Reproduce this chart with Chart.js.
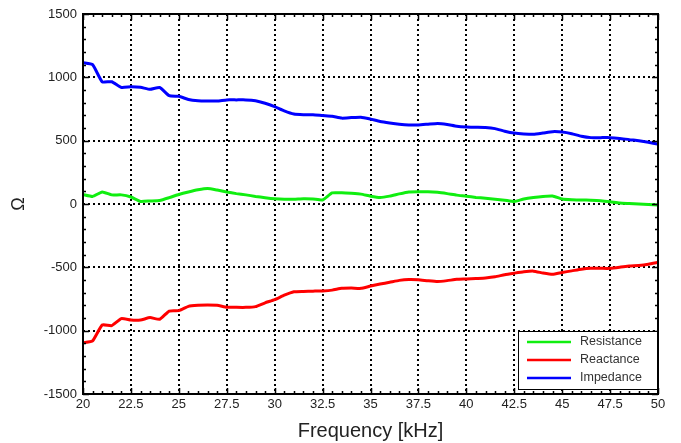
<!DOCTYPE html>
<html>
<head>
<meta charset="utf-8">
<script src="https://cdn.jsdelivr.net/npm/chart.js@4"></script>
<style>
  html, body { margin: 0; padding: 0; background: #fff; }
  #wrap { width: 681px; height: 443px; }
</style>
</head>
<body>
<div id="wrap"><canvas id="grafico" width="681" height="443"></canvas></div>
<script>
// frequencia em kHz
const frequencias = [
  20, 20.5, 21, 21.5, 22, 22.5, 23, 23.5, 24, 24.5,
  25, 25.5, 26, 26.5, 27, 27.5, 28, 28.5, 29, 29.5,
  30, 30.5, 31, 31.5, 32, 32.5, 33, 33.5, 34, 34.5,
  35, 35.5, 36, 36.5, 37, 37.5, 38, 38.5, 39, 39.5,
  40, 40.5, 41, 41.5, 42, 42.5, 43, 43.5, 44, 44.5,
  45, 45.5, 46, 46.5, 47, 47.5, 48, 48.5, 49, 49.5, 50
];

const resistencia = [
  75, 60, 95, 72, 72, 55, 20, 24, 28, 50,
  75, 95, 112, 122, 110, 95, 82, 72, 60, 50,
  42, 38, 38, 42, 40, 32, 88, 88, 84, 78,
  62, 52, 62, 80, 95, 97, 97, 92, 82, 70,
  62, 52, 45, 38, 30, 20, 40, 52, 60, 63,
  40, 34, 32, 30, 26, 18, 8, 4, 0, -4, -8
];

const reatancia = [
  -1095, -1080, -955, -960, -905, -916, -916, -897, -910, -845,
  -842, -808, -800, -797, -800, -815, -816, -816, -810, -780,
  -755, -720, -693, -690, -688, -686, -680, -666, -664, -666,
  -648, -632, -618, -603, -596, -598, -606, -612, -605, -595,
  -592, -588, -584, -575, -558, -546, -535, -530, -545, -555,
  -540, -528, -515, -508, -508, -508, -500, -490, -485, -475, -460
];

const impedancia = [
  1115, 1100, 965, 965, 920, 925, 921, 905, 920, 855,
  850, 825, 815, 813, 813, 822, 822, 822, 815, 795,
  768, 735, 710, 705, 705, 698, 692, 678, 682, 685,
  670, 652, 640, 630, 624, 624, 630, 636, 628, 614,
  608, 606, 604, 595, 575, 560, 553, 550, 560, 571,
  568, 555, 535, 524, 524, 524, 518, 508, 500, 488, 472
];

const nomesSeries = ['Resistance', 'Reactance', 'Impedance'];
const coresSeries = ['#10ee10', '#ff0000', '#0000ff'];

const FONTE = '"Liberation Sans", Arial, Helvetica, sans-serif';

function pontos(valores) {
  return frequencias.map((f, i) => ({ x: f, y: valores[i] }));
}

// moldura, ticks menores e legenda dentro do grafico
const molduraPlugin = {
  id: 'moldura',
  afterDraw(chart) {
    const ctx = chart.ctx;
    const { left, right, top, bottom } = chart.chartArea;
    const sx = chart.scales.x;
    const sy = chart.scales.y;
    ctx.save();
    ctx.strokeStyle = '#000';
    ctx.lineWidth = 1.5;
    ctx.beginPath();
    for (let f = 20; f <= 50.001; f += 0.5) {
      const px = Math.round(sx.getPixelForValue(f)) + 0.5;
      const len = Math.abs(f / 2.5 - Math.round(f / 2.5)) < 1e-6 ? 6 : 3;
      ctx.moveTo(px, bottom); ctx.lineTo(px, bottom - len);
      ctx.moveTo(px, top); ctx.lineTo(px, top + len);
    }
    for (let v = -1500; v <= 1500; v += 100) {
      const py = Math.round(sy.getPixelForValue(v)) + 0.5;
      const len = v % 500 === 0 ? 6 : 3;
      ctx.moveTo(left, py); ctx.lineTo(left + len, py);
      ctx.moveTo(right, py); ctx.lineTo(right - len, py);
    }
    ctx.stroke();
    ctx.lineWidth = 2;
    ctx.strokeRect(left, top, right - left, bottom - top);

    // legenda
    const w = 139, h = 58;
    const bx = right - w - 1, by = bottom - h - 5;
    ctx.fillStyle = '#fff';
    ctx.fillRect(bx, by, w, h);
    ctx.lineWidth = 1;
    ctx.strokeStyle = '#000';
    ctx.strokeRect(bx + 0.5, by + 0.5, w, h);
    ctx.font = '12.5px ' + FONTE;
    ctx.textBaseline = 'middle';
    chart.data.datasets.forEach((ds, i) => {
      const ly = by + 11 + i * 18;
      ctx.strokeStyle = ds.borderColor;
      ctx.lineWidth = 2.5;
      ctx.beginPath();
      ctx.moveTo(bx + 9, ly); ctx.lineTo(bx + 53, ly);
      ctx.stroke();
      ctx.fillStyle = '#333';
      ctx.fillText(ds.label, bx + 62, ly);
    });
    ctx.restore();
  }
};

const gradeDotted = {
  color: '#000',
  lineWidth: 2,
  drawTicks: false
};

new Chart(document.getElementById('grafico'), {
  type: 'line',
  data: {
    datasets: [resistencia, reatancia, impedancia].map((vals, i) => ({
      label: nomesSeries[i],
      data: pontos(vals),
      borderColor: coresSeries[i],
      backgroundColor: coresSeries[i],
      borderWidth: 3,
      pointRadius: 0,
      tension: 0.15
    }))
  },
  options: {
    responsive: false,
    animation: false,
    layout: { padding: { left: 0, right: 23, top: 14, bottom: 0 } },
    plugins: {
      legend: { display: false },
      tooltip: { enabled: false }
    },
    scales: {
      x: {
        type: 'linear',
        min: 20,
        max: 50,
        afterFit(scale) { scale.height = 49; },
        border: { display: false, dash: [2, 3] },
        grid: gradeDotted,
        ticks: {
          stepSize: 2.5,
          padding: 3,
          color: '#222',
          font: { family: FONTE, size: 13 },
          callback: v => String(v)
        },
        title: {
          display: true,
          text: 'Frequency [kHz]',
          color: '#222',
          font: { family: FONTE, size: 20 },
          padding: { top: 0, bottom: 0 }
        }
      },
      y: {
        min: -1500,
        max: 1500,
        afterFit(scale) { scale.width = 83; },
        border: { display: false, dash: [2, 3] },
        grid: gradeDotted,
        ticks: {
          stepSize: 500,
          padding: 6,
          color: '#222',
          font: { family: FONTE, size: 13 },
          callback: v => String(v)
        },
        title: {
          display: true,
          text: 'Ω',
          color: '#222',
          font: { family: FONTE, size: 18 },
          padding: { top: 8, bottom: 0 }
        }
      }
    }
  },
  plugins: [molduraPlugin]
});
</script>
</body>
</html>
